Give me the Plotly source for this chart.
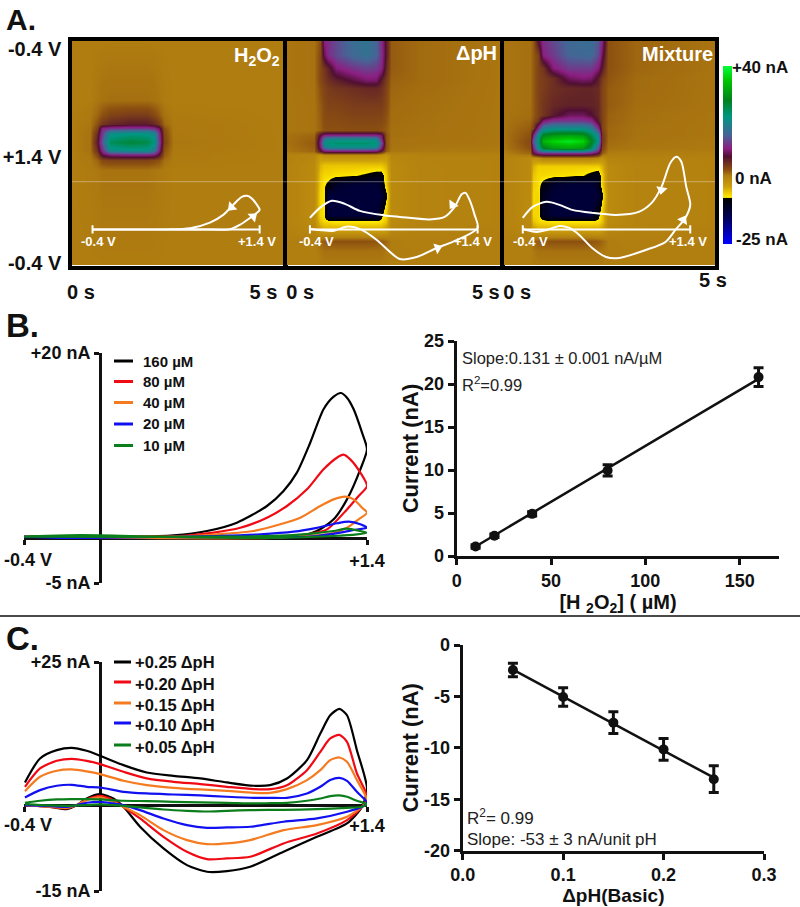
import plotly.graph_objects as go

W, H = 800, 907
FONT = "Liberation Sans"

# ---------- Panel A: colour plots (time in s, position in the potential scan 0..1) ----------
cmap_nA = [-25, -15, -8.3, -8.0, -6.5, -4.1, 0, 2, 6.9, 9.9, 14.8, 21.5, 27.6, 34.9, 40]
cmap_colors = ["#0000FF", "#000050", "#000000", "#FFEB00", "#F0CD00", "#CDA00A", "#B07D10", "#8C5010",
               "#500F32", "#8C1E82", "#466496", "#009682", "#00821E", "#00C800", "#00FF3C"]

h2o2_t = [0, .44, .6, .72, .91, 1.38, 1.77, 1.94, 2.06, 2.16, 2.39, 5]
h2o2_scan = [0, .263, .329, .368, .387, .409, .446, .482, .504, .526, .57, 1]
h2o2_z = [
    [0, 0, 0, 0, 0, 0, 0, 0, 0, 0, 0, 0],
    [0, 0, .3, .5, .6, .6, .6, .5, .3, .1, 0, 0],
    [0, .2, 1, 2, 3, 3.5, 3.5, 2.5, 1.5, .5, .1, 0],
    [0, .3, 2, 4, 5, 6, 6, 5, 3.5, 1, .2, 0],
    [0, .4, 3, 10, 11, 11.5, 11.5, 10.5, 8, 2, .2, 0],
    [0, .5, 4.5, 12, 20, 21, 21, 19, 11, 2.5, .2, 0],
    [0, .5, 6, 14, 24, 26, 25, 22, 12, 3, .3, 0],
    [0, .5, 4.5, 11, 20, 21, 21, 18, 10, 2, .2, 0],
    [0, .3, 2.5, 7, 9, 9.5, 9.5, 9, 6, 1.5, .1, 0],
    [0, .2, 1, 2.5, 3, 3, 3, 2.5, 2, .6, .1, 0],
    [0, .1, .2, .4, .4, .4, .4, .3, .2, .1, 0, 0],
    [0, 0, 0, 0, 0, 0, 0, 0, 0, 0, 0, 0],
]

dph_t = [0, .66, .78, .87, .97, 1.16, 1.55, 1.86, 2.09, 2.21, 2.31, 2.44, 3.1, 5]
dph_scan = [0, .064, .123, .174, .211, .284, .393, .415, .434, .452, .471, .485, .503, .547, .591, .635, .678, .766,
            .795, .825, .883, .927, 1]
dph_z = [
    [.3, .5, 2, 10, 11, 13, 16, 17, 15, 11, 6, 1.5, .8, .3],
    [.3, .5, 2.5, 8, 11, 13, 15.5, 16.5, 15, 11.5, 6, 1.5, .8, .3],
    [.3, .5, 2.5, 4, 5.5, 9.5, 11.5, 12.5, 12, 10.5, 5, 1.5, .8, .3],
    [.3, .5, 2.5, 3.5, 4.5, 5.5, 7.5, 9, 9, 6, 3.5, 1.2, .8, .3],
    [.3, .5, 2, 3, 3.5, 4, 4.5, 5, 5, 4.5, 3, 1, .7, .3],
    [.3, .4, 1.5, 2.5, 3, 3, 3.5, 3.5, 3.5, 3.5, 2.5, .8, .6, .3],
    [.3, .4, 1.2, 2, 2, 2, 2.2, 2.2, 2.2, 2, 1.5, .6, .5, .3],
    [.5, 1, 7, 10, 10.5, 10.5, 10.5, 10.5, 10.5, 9, 2, .6, .5, .3],
    [.5, 1.3, 9, 17, 19.5, 20, 20, 20, 19.5, 11, 2, .5, .4, .3],
    [.5, 1.5, 10, 20, 22, 23, 23, 23, 22, 14, 2, .5, .4, .3],
    [.4, 1.3, 9, 17, 19.5, 20, 20, 20, 19.5, 11, 2, .4, .3, .2],
    [.3, 1, 6, 9, 9.5, 9.5, 9.5, 9.5, 9, 6, 1.5, .3, .2, .1],
    [-.5, -1, -3, -2, -2, -2, -2, -2, -2, -2.5, -3, -1, -.6, -.5],
    [-.6, -1.5, -5, -6, -6, -6, -6, -6, -6, -6, -5, -1.5, -.7, -.5],
    [-.6, -1.5, -6, -7, -7, -7.5, -7.8, -8.6, -9.5, -9.5, -6.5, -1.5, -.7, -.5],
    [-.6, -1.6, -6.5, -7.8, -9, -12, -13, -13, -13, -11, -6.5, -1.5, -.7, -.5],
    [-.6, -1.6, -7, -7.8, -13, -13, -13, -13, -13, -13, -8.8, -1.5, -.7, -.5],
    [-.6, -1.6, -7, -7.8, -13, -13, -13, -13, -13, -9, -6, -1.5, -.7, -.5],
    [-.6, -1.5, -6, -7, -7.4, -8, -8, -8, -8, -7.6, -6, -1.5, -.7, -.5],
    [-.5, -1.2, -4, -5, -5, -5, -5, -5, -5, -5, -4, -1.2, -.6, -.4],
    [-.2, -.2, 1, 1.5, 1.8, 2, 2, 2, 1.8, 1.5, 1, 0, -.2, -.2],
    [-.2, -.2, .2, .5, .5, .5, .5, .5, .5, .5, .2, 0, -.1, -.1],
    [-.2, -.2, 0, 0, 0, 0, 0, 0, 0, 0, 0, -.1, -.1, -.1],
]

mix_t = [0, .62, .70, .81, .93, 1.16, 1.55, 1.86, 2.05, 2.21, 2.31, 2.44, 3.1, 5]
mix_scan = [0, .064, .123, .167, .211, .284, .33, .357, .386, .415, .444, .474, .496, .518, .554, .591, .635, .678,
            .766, .795, .825, .883, .927, 1]
mix_z = [
    [.4, .6, 1.5, 7, 11, 13, 15.5, 16, 16, 14, 10, 2, 1, .4],
    [.4, .6, 1.5, 3, 10, 12, 15, 15.5, 15.5, 13, 8, 2, 1, .4],
    [.4, .6, 1.5, 3, 4, 9.5, 12, 12, 12, 9.5, 6, 2, 1, .4],
    [.4, .6, 1.5, 3, 3.5, 4.5, 8.5, 9.5, 9, 6, 3.5, 1.8, .8, .4],
    [.4, .6, 1.5, 3, 3.5, 4.5, 5, 5.2, 5.2, 4.8, 3, 1.5, .8, .4],
    [.4, .6, 1.5, 3, 4, 5, 5.5, 5.5, 5.5, 5, 3, 1.5, .7, .4],
    [.4, .7, 1.5, 3, 4, 6, 8.5, 8.5, 7, 5, 3, 1.2, .6, .3],
    [.4, 1, 2, 4, 9.5, 12, 12, 12, 11, 6, 3, 1.2, .6, .3],
    [.4, 1.5, 3, 11, 18, 20, 20, 20, 18, 11, 3, 1, .5, .3],
    [.4, 2, 10, 20, 28, 30, 31, 30, 25, 19, 4, 1, .5, .3],
    [.3, 2.5, 14, 22, 33, 36, 38, 36, 28, 21, 4, .8, .4, .2],
    [.2, 2, 10, 20, 27, 30, 31, 30, 24, 14, 3, .5, .3, .2],
    [-.2, 1, 7, 10, 11, 11, 11, 11, 10, 7, 1.5, 0, -.1, -.1],
    [-.6, -1.5, -2.5, -2, -1, -1, -1, -1, -1, -1.5, -2.5, -.8, -.6, -.5],
    [-.6, -1.5, -5, -6.5, -6.5, -6.5, -6.5, -6.5, -6.5, -6.5, -5, -1.5, -.7, -.5],
    [-.6, -1.5, -6, -7, -7, -7.3, -7.6, -8, -9, -10, -6.5, -1.5, -.7, -.5],
    [-.6, -1.5, -6.5, -7.4, -9.2, -12, -13, -13, -13, -11, -6.5, -1.5, -.7, -.5],
    [-.6, -1.6, -7, -7, -11, -13, -13, -13, -13, -13, -8.8, -1.5, -.7, -.5],
    [-.6, -1.6, -7, -7, -11, -13, -13, -13, -13, -9, -6, -1.5, -.7, -.5],
    [-.6, -1.5, -6, -7, -7.4, -8, -8, -8, -8, -7.6, -6, -1.5, -.7, -.5],
    [-.5, -1.2, -4, -5, -5, -5, -5, -5, -5, -5, -4, -1.2, -.6, -.4],
    [-.2, -.2, 1, 1.5, 1.8, 2, 2, 2, 1.8, 1.5, 1, 0, -.2, -.2],
    [-.2, -.2, .2, .5, .5, .5, .5, .5, .5, .5, .2, 0, -.1, -.1],
    [-.2, -.2, 0, 0, 0, 0, 0, 0, 0, 0, 0, -.1, -.1, -.1],
]

# Inset voltammograms in the colour plots
inset_base_v = [-0.4, 1.4]
inset_base_i = [0, 0]
inset_h2o2_v = [-.4, .758, 1.079, 1.186, 1.293, 1.364, 1.4, 1.364, 1.311, 1.264, 1.204, 1.115, 1.008, .865, .651, .402, -.4]
inset_h2o2_i = [0, 0, .1, 2.25, 5.6, 8.1, 9.75, 12.75, 15.6, 16.75, 16.1, 12.25, 7.25, 3.4, .6, 0, 0]
inset_dph_v = [-.4, -.293, -.164, -.025, .136, .404, .564, .886, 1.046, 1.154, 1.229, 1.271, 1.314, 1.368, 1.4,
               1.132, .961, .746, .564, .318, .157, .007, -.154, -.293, -.4]
inset_dph_i = [5.75, 10.75, 14.25, 12.75, 9.25, 7, 6.25, 5, 6.25, 11.25, 17.5, 18.25, 14.75, 7.25, .75,
               -6.25, -9.25, -13.75, -14.75, -5.25, -.25, 1.4, -.75, -.25, .25]
inset_mix_v = [-.4, -.294, -.144, -.006, .133, .346, .601, .846, .985, 1.091, 1.187, 1.251, 1.304, 1.357, 1.4,
               1.347, 1.24, 1.134, .921, .633, .495, .346, .207, .101, -.006, -.144, -.251, -.4]
inset_mix_i = [5.75, 11.25, 13.75, 12.25, 9.75, 8.25, 7.25, 8.75, 13.25, 21.25, 33.25, 36.25, 33.75, 21.25, 12.25,
               5.75, -.25, -6.25, -10.25, -14.25, -13.75, -9.25, -2.75, .75, 1.75, -.25, -1.25, .25]
arrow_h2o2 = ([1.097, 1.33], [11.1, 6.4], [225, 50])
arrow_dph = ([1.132, .971], [12.25, -9.25], [215, 70])
arrow_mix = ([1.091, 1.325], [19.75, 4.75], [190, 30])

# ---------- Panel B: voltammograms ----------
b_labels = ["160 µM", "80 µM", "40 µM", "20 µM", "10 µM"]
b160_v = [-.4, .174, .875, 1.05, 1.137, 1.225, 1.295, 1.365, 1.4, 1.374, 1.33, 1.295, 1.264, 1.225, 1.172, 1.102,
          1.032, .962, .875, .717, .56, .384, .174, -.4]
b160_i = [.05, -.05, 0, .11, .65, 1.92, 4.09, 7.36, 9.53, 11.34, 13.88, 15.14, 15.65, 15.25, 13.88, 10.25,
          7, 5, 3.37, 1.56, .65, .18, .04, .05]
b80_v = [-.4, .174, .875, 1.085, 1.19, 1.295, 1.356, 1.4, 1.365, 1.312, 1.277, 1.242, 1.172, 1.085, .98, .875, .735,
         .595, .42, .174, -.4]
b80_i = [.05, -.05, -.05, .29, .83, 3, 4.46, 5.54, 7, 8.44, 8.95, 8.62, 7.36, 5.18, 3.37, 2.1, 1,
         .47, .11, .04, .05]
b40_v = [-.4, .2, .9, 1.05, 1.19, 1.295, 1.356, 1.4, 1.374, 1.33, 1.286, 1.225, 1.155, 1.05, .945, .805, .612, .42,
         .1, -.4]
b40_i = [.1, -.1, -.1, .1, .29, 1, 1.92, 2.64, 3.19, 4.09, 4.38, 4.09, 3.37, 2.1, 1.38, .65, .29, .04, .05, .05]
b20_v = [-.4, -.15, .3, .9, 1.137, 1.26, 1.33, 1.4, 1.365, 1.304, 1.242, 1.137, 1.015, .84, .612, .35, -.4]
b20_i = [.05, -.1, 0, -.05, .11, .47, .76, 1, 1.38, 1.67, 1.49, 1, .58, .29, .11, 0, 0]
b10_v = [-.4, -.1, .3, .9, 1.225, 1.347, 1.4, 1.365, 1.295, 1.225, 1.12, .98, .7, -.4]
b10_i = [.05, .2, .05, -.1, .11, .29, .47, .65, .91, .65, .4, .18, .04, .05]

# Panel B calibration
h2o2_conc = [10, 20, 40, 80, 160]
h2o2_current = [1.1, 2.35, 4.9, 9.95, 20.8]
h2o2_err = [.2, .2, .25, .65, 1.1]
h2o2_fit_x = [10, 160]
h2o2_fit_y = [1.1, 20.6]

# ---------- Panel C: voltammograms ----------
c_labels = ["+0.25 ΔpH", "+0.20 ΔpH", "+0.15 ΔpH", "+0.10 ΔpH", "+0.05 ΔpH"]
c_v = [-.395, -.316, -.228, -.15, -.071, 0, .122, .244, .384, .525, .665, .805, .892, .98, 1.085, 1.155, 1.207,
       1.255, 1.295, 1.347, 1.4,
       1.374, 1.295, 1.137, .962, .787, .665, .56, .455, .332, .209, .122, .069, 0, -.071, -.123, -.176, -.263, -.395]
c25_i = [3.96, 8.15, 9.6, 10, 9.49, 8.61, 6.98, 5.7, 5.12, 4.66, 3.96, 3.38, 3.49, 4.66, 7.86, 12.5, 15.7, 16.8, 15.7,
         9.6, 2.91,
         -.29, -3.2, -5.53, -8.15, -10.77, -11.53, -11.64, -10.48, -7.57, -3.78, -.29, 1.16, 1.92, 1.16, 0, -.7, -.29, 0]
c20_i = [3.2, 6.4, 7.74, 8.09, 7.74, 7.16, 5.82, 4.66, 4.07, 3.67, 3.2, 2.79, 2.79, 3.49, 6.11, 9.31, 11.64, 12.28,
         11.06, 5.53, 1.46,
         -.29, -2.62, -4.95, -6.69, -9.02, -9.31, -9.43, -8.15, -5.53, -2.33, -.29, .87, 1.63, .99, 0, -.58, -.29, 0]
c15_i = [2.44, 4.95, 6, 6.23, 5.88, 5.41, 4.25, 3.49, 3.03, 2.74, 2.5, 2.15, 2.15, 2.79, 4.37, 6.11, 7.86, 8.32, 7.57,
         4.37, .87,
         -.29, -2.04, -3.49, -4.37, -6.11, -6.69, -6.81, -6.11, -4.37, -1.75, -.29, .58, 1.34, .87, 0, -.47, -.29, 0]
c10_i = [1.34, 2.62, 3.38, 3.55, 3.2, 3.08, 2.33, 2.04, 1.86, 1.69, 1.46, 1.28, 1.28, 1.28, 2.04, 3.2, 4.37, 4.77,
         4.25, 2.33, .41,
         -.29, -1.16, -2.33, -2.91, -3.78, -3.9, -3.96, -3.49, -2.33, -.87, 0, .29, .58, .41, 0, -.29, -.17, 0]
c05_i = [.41, .76, .99, 1.05, 1.05, .99, .76, .7, .58, .47, .41, .29, .35, .41, .76, 1.16, 1.57, 1.69, 1.46, .76, .17,
         -.29, -.47, -.7, -.82, -.87, -.99, -1.11, -.99, -.76, -.41, -.12, 0, .12, 0, -.06, -.12, -.06, .17]

# Panel C calibration
dph_vals = [.05, .1, .15, .2, .25]
dph_current = [-2.43, -5.05, -7.55, -10.15, -13.05]
dph_err = [.65, .9, 1.05, 1.05, 1.3]
dph_fit_x = [.05, .25]
dph_fit_y = [-2.4, -12.9]

series_colors = ["#000000", "#F00A14", "#F47B20", "#1010F0", "#0B7D1A"]

# ---------- helpers ----------
def dx(a, b):
    return [a / W, b / W]

def dy(top, bottom):
    return [1 - bottom / H, 1 - top / H]

annotations = []
def text(x, y, s, size=18, bold=True, anchor="left", color="#111111", angle=0):
    annotations.append(dict(x=x / W, y=1 - y / H, xref="paper", yref="paper", text=s, showarrow=False,
                            xanchor=anchor, yanchor="middle", textangle=angle, borderpad=0, borderwidth=0,
                            font=dict(family=FONT, size=size, color=color, weight=700 if bold else 400)))

fig = go.Figure()
layout = {}
AX_FONT = dict(family=FONT, size=18, color="#111111", weight=700)
A_FONT = dict(family=FONT, size=20, color="#111111", weight=700)

# ---------- colour plots ----------
PANEL_TOP, PANEL_BOT = 41, 265.5
SCAN_RANGE = [.989, .004]
panels = [
    (h2o2_t, h2o2_scan, h2o2_z, [72, 283.5], [.02, 4.96], [-.621, 1.657], [.23, 4.49], ["0 s", "5 s"],
     inset_h2o2_v, inset_h2o2_i, arrow_h2o2),
    (dph_t, dph_scan, dph_z, [287, 500.5], [.023, 4.97], [-.646, 1.646], [.33, 4.63], ["0 s", "5 s"],
     inset_dph_v, inset_dph_i, arrow_dph),
    (mix_t, mix_scan, mix_z, [504, 715], [.023, 4.95], [-.602, 1.666], [.33], ["0 s"],
     inset_mix_v, inset_mix_i, arrow_mix),
]
for k, (t, scan, z, dom, xr, vr, tv, tt, iv, ii, arrows) in enumerate(panels):
    xn, yn = ("x", "y") if k == 0 else (f"x{k + 1}", f"y{k + 1}")
    fig.add_trace(go.Heatmap(x=t, y=scan, z=z, coloraxis="coloraxis", zsmooth="best", xaxis=xn, yaxis=yn))
    xkey = xn.replace("x", "xaxis")
    ykey = yn.replace("y", "yaxis")
    layout[xkey] = dict(domain=dx(*dom), range=xr, anchor=yn, showgrid=False, zeroline=False, showline=True,
                        mirror=True, linecolor="#000000", linewidth=3.5, ticks="", tickvals=tv, ticktext=tt,
                        tickfont=A_FONT, ticklabelstandoff=6, ticklabeloverflow="allow")
    ycfg = dict(domain=dy(PANEL_TOP, PANEL_BOT), range=SCAN_RANGE, anchor=xn, showgrid=False, zeroline=False,
                showline=True, mirror=True, linecolor="#000000", linewidth=3.5, ticks="")
    if k == 0:
        ycfg.update(tickvals=[.04, .515, .98], ticktext=["-0.4 V", "+1.4 V", "-0.4 V"], tickfont=A_FONT,
                    ticklabelstandoff=3, ticklabeloverflow="allow")
    else:
        ycfg.update(tickvals=[], showticklabels=False)
    layout[ykey] = ycfg
    # overlay axes: voltage / current of the inset voltammogram
    ox, oy = f"x{k + 4}", f"y{k + 4}"
    layout[ox.replace("x", "xaxis")] = dict(domain=dx(*dom), range=vr, overlaying=xn, anchor=oy, visible=False)
    layout[oy.replace("y", "yaxis")] = dict(domain=dy(PANEL_TOP, PANEL_BOT), range=[-18, 94], overlaying=yn, anchor=ox,
                                            visible=False)
    fig.add_trace(go.Scatter(x=inset_base_v, y=inset_base_i, mode="lines+markers", xaxis=ox, yaxis=oy,
                             line=dict(color="white", width=2),
                             marker=dict(symbol="line-ns", size=6, line=dict(color="white", width=2)),
                             hoverinfo="skip", showlegend=False))
    fig.add_trace(go.Scatter(x=iv, y=ii, mode="lines", xaxis=ox, yaxis=oy,
                             line=dict(color="white", width=2, shape="spline", smoothing=.8),
                             hoverinfo="skip", showlegend=False))
    fig.add_trace(go.Scatter(x=arrows[0], y=arrows[1], mode="markers", xaxis=ox, yaxis=oy,
                             marker=dict(symbol="triangle-up", size=10, angle=arrows[2], color="white"),
                             hoverinfo="skip", showlegend=False))

layout["coloraxis"] = dict(
    cmin=cmap_nA[0], cmax=cmap_nA[-1],
    colorscale=[[(v - cmap_nA[0]) / (cmap_nA[-1] - cmap_nA[0]), c] for v, c in zip(cmap_nA, cmap_colors)],
    colorbar=dict(x=723 / W, xanchor="left", xpad=0, ypad=0, y=1 - 155 / H, yanchor="middle", len=178,
                  lenmode="pixels", thickness=9, thicknessmode="pixels", outlinewidth=0, showticklabels=False,
                  tickvals=[], ticks=""))

# inset labels
for x, s in [(98, "-0.4 V"), (257, "+1.4 V"), (316, "-0.4 V"), (473, "+1.4 V"), (530, "-0.4 V"), (688, "+1.4 V")]:
    text(x, 241, s, size=13, anchor="center", color="white")
text(280, 56, "H<sub>2</sub>O<sub>2</sub>", size=20, anchor="right", color="white")
text(497, 53, "ΔpH", size=20, anchor="right", color="white")
text(713, 54, "Mixture", size=20, anchor="right", color="white")
text(713, 280, "5 s", size=20, anchor="center")
text(732, 68, "+40 nA", size=17)
text(735, 179, "0 nA", size=17)
text(736, 239, "-25 nA", size=17)

# ---------- Panel B voltammograms ----------
layout["xaxis7"] = dict(domain=dx(24, 367), range=[-.4, 1.4], anchor="free", position=1 - 537.5 / H,
                        showgrid=False, zeroline=False, showline=True, linecolor="#111111", linewidth=3,
                        ticks="outside", ticklen=5, tickwidth=3, tickcolor="#111111", tickvals=[-.4, 1.4],
                        ticktext=["", "+1.4"], tickfont=AX_FONT, layer="below traces", ticklabelstandoff=1,
                        ticklabeloverflow="allow")
layout["yaxis7"] = dict(domain=dy(353, 583), range=[-5, 20], anchor="free", position=100 / W,
                        showgrid=False, zeroline=False, showline=True, linecolor="#111111", linewidth=3,
                        ticks="outside", ticklen=5, tickwidth=3, tickcolor="#111111", tickvals=[-5, 20],
                        ticktext=["-5 nA", "+20 nA"], tickfont=AX_FONT, layer="below traces")
text(28, 560, "-0.4 V", size=18, anchor="center")
b_series = [(b160_v, b160_i), (b80_v, b80_i), (b40_v, b40_i), (b20_v, b20_i), (b10_v, b10_i)]
for (v, i), c, name in zip(b_series, series_colors, b_labels):
    fig.add_trace(go.Scatter(x=v, y=i, mode="lines", name=name, xaxis="x7", yaxis="y7", showlegend=False,
                             line=dict(color=c, width=2.2, shape="spline", smoothing=.7)))

# ---------- Panel B calibration ----------
def cal_axes(xk, yk, xdom, ydom, xr, yr, xtv, xtt, ytv, ytt, ytitle, xtitle, ystand, xsize, xstand):
    layout[xk] = dict(domain=dx(*xdom), range=xr, anchor=yk.replace("yaxis", "y"), showgrid=False, zeroline=False,
                      showline=True, linecolor="#111111", linewidth=3, ticks="outside", ticklen=6, tickwidth=3,
                      tickcolor="#111111", tickvals=xtv, ticktext=xtt, tickfont=AX_FONT,
                      title=dict(text=xtitle, standoff=xstand, font=dict(family=FONT, size=xsize, color="#111111", weight=700)))
    layout[yk] = dict(domain=dy(*ydom), range=yr, anchor=xk.replace("xaxis", "x"), showgrid=False, zeroline=False,
                      showline=True, linecolor="#111111", linewidth=3, ticks="outside", ticklen=6, tickwidth=3,
                      tickcolor="#111111", tickvals=ytv, ticktext=ytt, tickfont=AX_FONT,
                      title=dict(text=ytitle, standoff=ystand, font=dict(family=FONT, size=22, color="#111111", weight=700)))

cal_axes("xaxis8", "yaxis8", (456.7, 779.3), (341, 556), [0, 171], [0, 25],
         [0, 50, 100, 150], ["0", "50", "100", "150"], [0, 5, 10, 15, 20, 25], ["0", "5", "10", "15", "20", "25"],
         "Current (nA)", "[H <sub>2</sub>O<sub>2</sub>] ( µM)", 0, 20, 0)
fig.add_trace(go.Scatter(x=h2o2_fit_x, y=h2o2_fit_y, mode="lines", xaxis="x8", yaxis="y8", showlegend=False,
                         line=dict(color="#111111", width=2.5)))
fig.add_trace(go.Scatter(x=h2o2_conc, y=h2o2_current, mode="markers", xaxis="x8", yaxis="y8", showlegend=False,
                         marker=dict(color="#111111", size=10),
                         error_y=dict(type="data", array=h2o2_err, thickness=3, width=5, color="#111111")))
text(462, 358, "Slope:0.131 ± 0.001 nA/µM", size=16.5, bold=False, color="#222222")
text(462, 384, "R<sup>2</sup>=0.99", size=16.5, bold=False, color="#222222")

# ---------- Panel C voltammograms ----------
layout["xaxis9"] = dict(domain=dx(24, 367), range=[-.4, 1.4], anchor="free", position=1 - 805 / H,
                        showgrid=False, zeroline=False, showline=True, linecolor="#111111", linewidth=3,
                        ticks="outside", ticklen=5, tickwidth=3, tickcolor="#111111", tickvals=[-.4, 1.4],
                        ticktext=["", "+1.4"], tickfont=AX_FONT, layer="below traces", ticklabelstandoff=-2,
                        ticklabeloverflow="allow")
layout["yaxis9"] = dict(domain=dy(662, 891), range=[-15, 25], anchor="free", position=100 / W,
                        showgrid=False, zeroline=False, showline=True, linecolor="#111111", linewidth=3,
                        ticks="outside", ticklen=5, tickwidth=3, tickcolor="#111111", tickvals=[-15, 25],
                        ticktext=["-15 nA", "+25 nA"], tickfont=AX_FONT, layer="below traces")
text(28, 825, "-0.4 V", size=18, anchor="center")
for i, c, name in zip([c25_i, c20_i, c15_i, c10_i, c05_i], series_colors, c_labels):
    fig.add_trace(go.Scatter(x=c_v, y=i, mode="lines", name=name, xaxis="x9", yaxis="y9", showlegend=False,
                             line=dict(color=c, width=2.2, shape="spline", smoothing=.7)))

# ---------- Panel C calibration ----------
cal_axes("xaxis10", "yaxis10", (462.7, 764), (645, 850.7), [0, .3], [-20, 0],
         [0, .1, .2, .3], ["0.0", "0.1", "0.2", "0.3"], [0, -5, -10, -15, -20], ["0", "-5", "-10", "-15", "-20"],
         "Current (nA)", "ΔpH(Basic)", 0, 19, 3)
fig.add_trace(go.Scatter(x=dph_fit_x, y=dph_fit_y, mode="lines", xaxis="x10", yaxis="y10", showlegend=False,
                         line=dict(color="#111111", width=2.5)))
fig.add_trace(go.Scatter(x=dph_vals, y=dph_current, mode="markers", xaxis="x10", yaxis="y10", showlegend=False,
                         marker=dict(color="#111111", size=10),
                         error_y=dict(type="data", array=dph_err, thickness=3, width=5, color="#111111")))
text(467, 817, "R<sup>2</sup>= 0.99", size=17, bold=False, color="#222222")
text(467, 839, "Slope: -53 ± 3 nA/unit pH", size=17, bold=False, color="#222222")

# ---------- panel letters, legends, shapes ----------
text(6, 19.5, "A.", size=30)
text(6, 325, "B.", size=33)
text(6, 638, "C.", size=33)

shapes = [
    dict(type="line", xref="paper", yref="paper", x0=72 / W, x1=715 / W, y0=1 - 181.7 / H, y1=1 - 181.7 / H,
         line=dict(color="rgba(255,255,255,0.35)", width=1), layer="above"),
    dict(type="line", xref="paper", yref="paper", x0=0, x1=1, y0=1 - 616 / H, y1=1 - 616 / H,
         line=dict(color="#4a4a4a", width=2)),
]
for y, s, c in zip([361, 381.5, 402.5, 424, 445.5], b_labels, series_colors):
    shapes.append(dict(type="line", xref="paper", yref="paper", x0=114 / W, x1=133 / W, y0=1 - y / H, y1=1 - y / H,
                       line=dict(color=c, width=3)))
    text(143, y, s, size=15)
for y, ty, s, c in zip([662, 682, 703, 723, 745], [662, 684, 705, 725, 747], c_labels, series_colors):
    shapes.append(dict(type="line", xref="paper", yref="paper", x0=114 / W, x1=131 / W, y0=1 - y / H, y1=1 - y / H,
                       line=dict(color=c, width=3)))
    text(135, ty, s, size=16.5)

fig.update_layout(width=W, height=H, margin=dict(l=0, r=0, t=0, b=0, pad=0, autoexpand=False), autosize=False,
                  paper_bgcolor="white", plot_bgcolor="white", showlegend=False,
                  font=dict(family=FONT), annotations=annotations, shapes=shapes, **layout)

fig.write_html("out.html", post_script="document.body.style.margin='0';", config={"displayModeBar": False})
